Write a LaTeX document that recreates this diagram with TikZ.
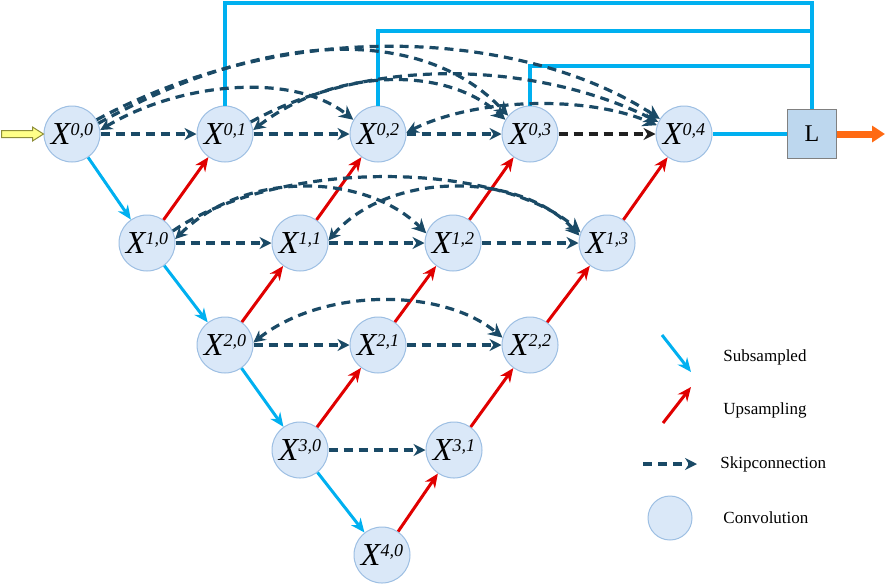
\documentclass[tikz,border=0pt]{standalone}
\usepackage{fontspec}
\setmainfont{Liberation Serif}
\usetikzlibrary{arrows.meta,calc}
\definecolor{convfill}{HTML}{DAE8F8}
\definecolor{convdraw}{HTML}{9DBFE3}
\definecolor{subc}{HTML}{00B0F0}
\definecolor{upc}{HTML}{E00000}
\definecolor{skipc}{HTML}{1A4A66}
\definecolor{skipk}{HTML}{202020}
\definecolor{lfill}{HTML}{BDD7EE}
\definecolor{lborder}{HTML}{808080}
\definecolor{outc}{HTML}{FF6A13}
\definecolor{inf}{HTML}{FFFF88}
\definecolor{inb}{HTML}{8E8E3A}
\newcommand{\lab}[1]{{\fontsize{16}{16}\selectfont\itshape X}\raisebox{4.5pt}{\fontsize{9}{9}\selectfont\itshape #1}}
\begin{document}
\begin{tikzpicture}[x=0.5pt,y=-0.5pt,
  conv/.style={circle,fill=convfill,draw=convdraw,line width=0.5pt,minimum size=28pt,inner sep=0pt},
  subarr/.style={color=subc,line width=1.5pt,-{Stealth[length=7pt,width=6pt]}},
  uparr/.style={color=upc,line width=1.5pt,-{Stealth[length=7pt,width=6pt]}},
  skiparr/.style={color=skipc,line width=1.6pt,dash pattern=on 4.5pt off 3pt,-{Stealth[length=6pt,width=6pt]}},
  skiparc/.style={color=skipc,line width=1.6pt,dash pattern=on 4.5pt off 3pt,-{Stealth[length=7pt,width=7pt]}},
  bothend/.style={{Stealth[length=6pt,width=6pt]}-{Stealth[length=7pt,width=7pt]}},
  feed/.style={draw=subc,line width=1.8pt},
  legtext/.style={anchor=west,inner sep=0pt,font=\fontsize{8.5}{10}\selectfont}
]
\useasboundingbox (0,0) rectangle (886,584);

% nodes
\node[conv] (X00) at (72,134) {\lab{0,0}};
\node[conv] (X01) at (225,134) {\lab{0,1}};
\node[conv] (X02) at (378,134) {\lab{0,2}};
\node[conv] (X03) at (530,134) {\lab{0,3}};
\node[conv] (X04) at (684,134) {\lab{0,4}};
\node[conv] (X10) at (147,243) {\lab{1,0}};
\node[conv] (X11) at (300,243) {\lab{1,1}};
\node[conv] (X12) at (453,243) {\lab{1,2}};
\node[conv] (X13) at (607,243) {\lab{1,3}};
\node[conv] (X20) at (225,345) {\lab{2,0}};
\node[conv] (X21) at (378,345) {\lab{2,1}};
\node[conv] (X22) at (530,345) {\lab{2,2}};
\node[conv] (X30) at (300,450) {\lab{3,0}};
\node[conv] (X31) at (454,450) {\lab{3,1}};
\node[conv] (X40) at (382,555) {\lab{4,0}};

\node[draw=lborder,fill=lfill,minimum size=24.5pt,inner sep=0pt,line width=0.6pt,font=\fontsize{12}{12}\selectfont] (L) at (812,134) {L};

% input arrow
\filldraw[fill=inf,draw=inb,line width=0.5pt]
  ($(X00.west)+(-42,-3.5)$) -- ($(X00.west)+(-11,-3.5)$) -- ($(X00.west)+(-11,-7)$) --
  (X00.west) -- ($(X00.west)+(-11,7)$) -- ($(X00.west)+(-11,3.5)$) --
  ($(X00.west)+(-42,3.5)$) -- cycle;

% output arrow
\coordinate (oe) at (885,134);
\draw[color=outc,line width=3.5pt,-{Triangle[length=6.5pt,width=8pt]}] (L.east) -- (oe);

% feed lines
\coordinate (t1) at (812,3);
\coordinate (t2) at (812,31);
\coordinate (t3) at (812,66);
\draw[feed] (X01.north) |- (t1) -- (L.north);
\draw[feed] (X02.north) |- (t2);
\draw[feed] (X03.north) |- (t3);
\draw[feed] (X04.east) -- (L.west);

% subsampling
\draw[subarr] (X00) -- (X10);
\draw[subarr] (X10) -- (X20);
\draw[subarr] (X20) -- (X30);
\draw[subarr] (X30) -- (X40);

% upsampling
\draw[uparr] (X10) -- (X01);
\draw[uparr] (X11) -- (X02);
\draw[uparr] (X12) -- (X03);
\draw[uparr] (X13) -- (X04);
\draw[uparr] (X20) -- (X11);
\draw[uparr] (X21) -- (X12);
\draw[uparr] (X22) -- (X13);
\draw[uparr] (X30) -- (X21);
\draw[uparr] (X31) -- (X22);
\draw[uparr] (X40) -- (X31);

% straight skips
\draw[skiparr] (X00) -- (X01);
\draw[skiparr] (X01) -- (X02);
\draw[skiparr] (X02) -- (X03);
\draw[skiparr,color=skipk] (X03) -- (X04);
\draw[skiparr] (X10) -- (X11);
\draw[skiparr] (X11) -- (X12);
\draw[skiparr] (X12) -- (X13);
\draw[skiparr] (X20) -- (X21);
\draw[skiparr] (X21) -- (X22);
\draw[skiparr] (X30) -- (X31);

% arcs row 0
\draw[skiparc,bothend] (X00.8) .. controls +(80,-48) and +(-60,-48) .. (X02.150);
\draw[skiparc] (X00.22) .. controls +(180,-100) and +(-80,-85) .. (X03.140);
\draw[skiparc] (X00.30) .. controls +(200,-108) and +(-130,-85) .. (X04.148);
\draw[skiparc,bothend] (X01.8) .. controls +(80,-62) and +(-60,-55) .. (X03.150);
\draw[skiparc] (X01.25) .. controls +(130,-72) and +(-110,-55) .. (X04.155);
\draw[skiparc,bothend] (X02.3) .. controls +(70,-35) and +(-70,-30) .. (X04.162);
% arcs row 1
\draw[skiparc,bothend] (X10.8) .. controls +(70,-70) and +(-60,-60) .. (X12.160);
\draw[skiparc] (X10.25) .. controls +(110,-75) and +(-80,-70) .. (X13.158);
\draw[skiparc,bothend] (X11.5) .. controls +(60,-70) and +(-60,-65) .. (X13.165);
% arcs row 2
\draw[skiparc,bothend] (X20.5) .. controls +(70,-55) and +(-60,-50) .. (X22.165);

% legend
\coordinate (la1) at (662,335);
\coordinate (la2) at (691,372);
\coordinate (lb1) at (663,423);
\coordinate (lb2) at (691,387);
\coordinate (lc1) at (643,464);
\coordinate (lc2) at (697,464);
\draw[subarr] (la1) -- (la2);
\draw[uparr] (lb1) -- (lb2);
\draw[skiparr] (lc1) -- (lc2);
\node[conv,minimum size=22pt] (lconv) at (670,518) {};
\node[legtext] (ts) at (723,357) {Subsampled};
\node[legtext] (tu) at (723,410) {Upsampling};
\node[legtext] (tk) at (720,464) {Skipconnection};
\node[legtext] (tc) at (723,518) {Convolution};
\end{tikzpicture}
\end{document}
